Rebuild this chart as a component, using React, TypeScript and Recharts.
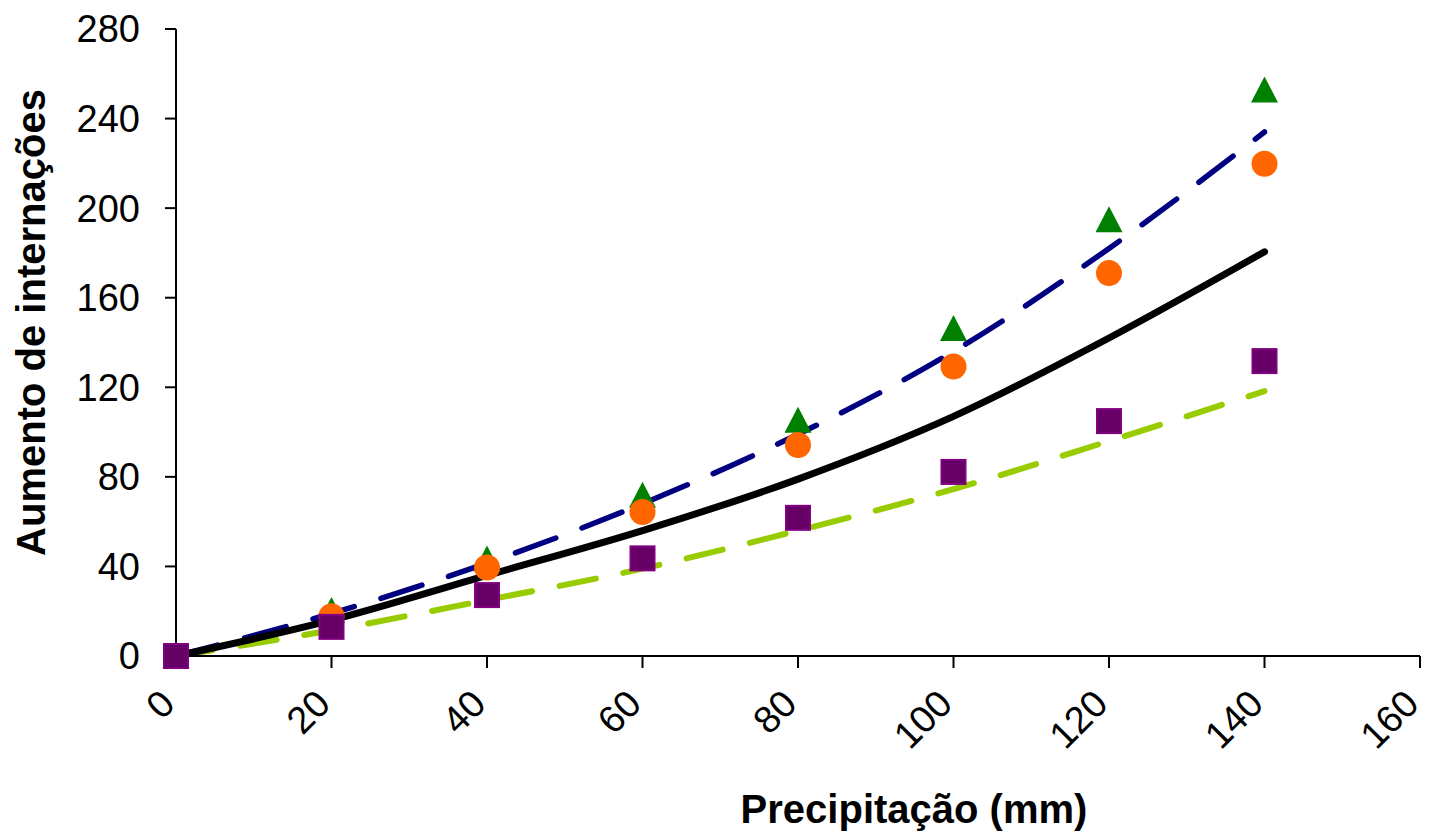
import React from 'react';
import { ComposedChart, Line, Scatter, XAxis, YAxis, Label } from 'recharts';

// precipitação (mm) e valores
const precipitation = [0, 20, 40, 60, 80, 100, 120, 140];
const triangles = [0, 20.5, 43.5, 72, 105.5, 146.5, 195, 253];
const circles = [0, 17.8, 39.5, 64.3, 94.2, 129.3, 171, 219.8];
const squares = [0, 13, 27.2, 43.6, 61.7, 82.2, 104.9, 131.7];
const solidFit = [0, 16, 36, 56, 79, 107, 142, 180.5];
const upperFit = [0, 19, 41.5, 68, 99, 136, 182, 234];
const lowerFit = [0, 11.5, 25, 39, 56, 74.5, 96, 118.3];

const xTicks = [0, 20, 40, 60, 80, 100, 120, 140, 160];
const yTicks = [0, 40, 80, 120, 160, 200, 240, 280];

const data = precipitation.map((x, i) => ({
  x,
  tri: triangles[i],
  circ: circles[i],
  sq: squares[i],
  solid: solidFit[i],
  upper: upperFit[i],
  lower: lowerFit[i],
}));

const FONT = 'Arial, "Liberation Sans", sans-serif';

const Triangle = (props: any) => {
  const { cx, cy } = props;
  if (cx == null || cy == null) return null;
  return <polygon points={`${cx},${cy - 13} ${cx + 13.5},${cy + 13} ${cx - 13.5},${cy + 13}`} fill="#008000" />;
};

const Dot = (props: any) => {
  const { cx, cy } = props;
  if (cx == null || cy == null) return null;
  return <circle cx={cx} cy={cy} r={13} fill="#FF6600" />;
};

const Square = (props: any) => {
  const { cx, cy } = props;
  if (cx == null || cy == null) return null;
  return <rect x={cx - 12} y={cy - 12} width={24} height={24} fill="#660066" stroke="#800080" strokeWidth={2} />;
};

const XTick = (props: any) => {
  const { x, y, payload } = props;
  const ex = x + 1;
  const ey = y + 36;
  return (
    <text x={ex} y={ey} transform={`rotate(-45, ${ex}, ${ey})`} textAnchor="end" fontSize={38} fontFamily={FONT} fill="#000">
      {payload.value}
    </text>
  );
};

const XTitle = (props: any) => {
  const vb = props.viewBox;
  return (
    <text x={vb.x + vb.width / 2 + 116} y={vb.y + 167} textAnchor="middle" fontSize={40} fontWeight="bold" fontFamily={FONT} fill="#000">
      Precipitação (mm)
    </text>
  );
};

const YTitle = (props: any) => {
  const vb = props.viewBox;
  const tx = vb.x + 45;
  const ty = vb.y + vb.height / 2 - 20;
  return (
    <text x={tx} y={ty} transform={`rotate(-90, ${tx}, ${ty})`} textAnchor="middle" fontSize={40} fontWeight="bold" fontFamily={FONT} fill="#000">
      Aumento de internações
    </text>
  );
};

export default function App() {
  return (
    <div style={{ position: 'absolute', left: 0, top: 0, width: 1429, height: 836, background: '#fff' }}>
      <ComposedChart width={1429} height={836} data={data} margin={{ top: 29, right: 9, left: 0, bottom: 0 }}>
        <XAxis
          type="number"
          dataKey="x"
          domain={[0, 160]}
          ticks={xTicks}
          interval={0}
          height={180}
          axisLine={{ stroke: '#000', strokeWidth: 2 }}
          tickLine={{ stroke: '#000', strokeWidth: 2 }}
          tickSize={12}
          tick={<XTick />}
        >
          <Label content={<XTitle />} />
        </XAxis>
        <YAxis
          type="number"
          domain={[0, 280]}
          ticks={yTicks}
          interval={0}
          width={176}
          axisLine={{ stroke: '#000', strokeWidth: 2 }}
          tickLine={{ stroke: '#000', strokeWidth: 2 }}
          tickSize={11}
          tickMargin={25}
          tick={{ fontSize: 38, fontFamily: FONT, fill: '#000' }}
        >
          <Label content={<YTitle />} />
        </YAxis>
        <Line type="monotone" dataKey="lower" stroke="#99CC00" strokeWidth={6} strokeDasharray="37 28" strokeLinecap="round" dot={false} isAnimationActive={false} />
        <Line type="monotone" dataKey="upper" stroke="#000080" strokeWidth={5.5} strokeDasharray="43 28" strokeLinecap="round" dot={false} isAnimationActive={false} />
        <Line type="monotone" dataKey="solid" stroke="#000" strokeWidth={7} strokeLinecap="round" dot={false} isAnimationActive={false} />
        <Scatter dataKey="tri" shape={<Triangle />} isAnimationActive={false} />
        <Scatter dataKey="circ" shape={<Dot />} isAnimationActive={false} />
        <Scatter dataKey="sq" shape={<Square />} isAnimationActive={false} />
      </ComposedChart>
    </div>
  );
}
